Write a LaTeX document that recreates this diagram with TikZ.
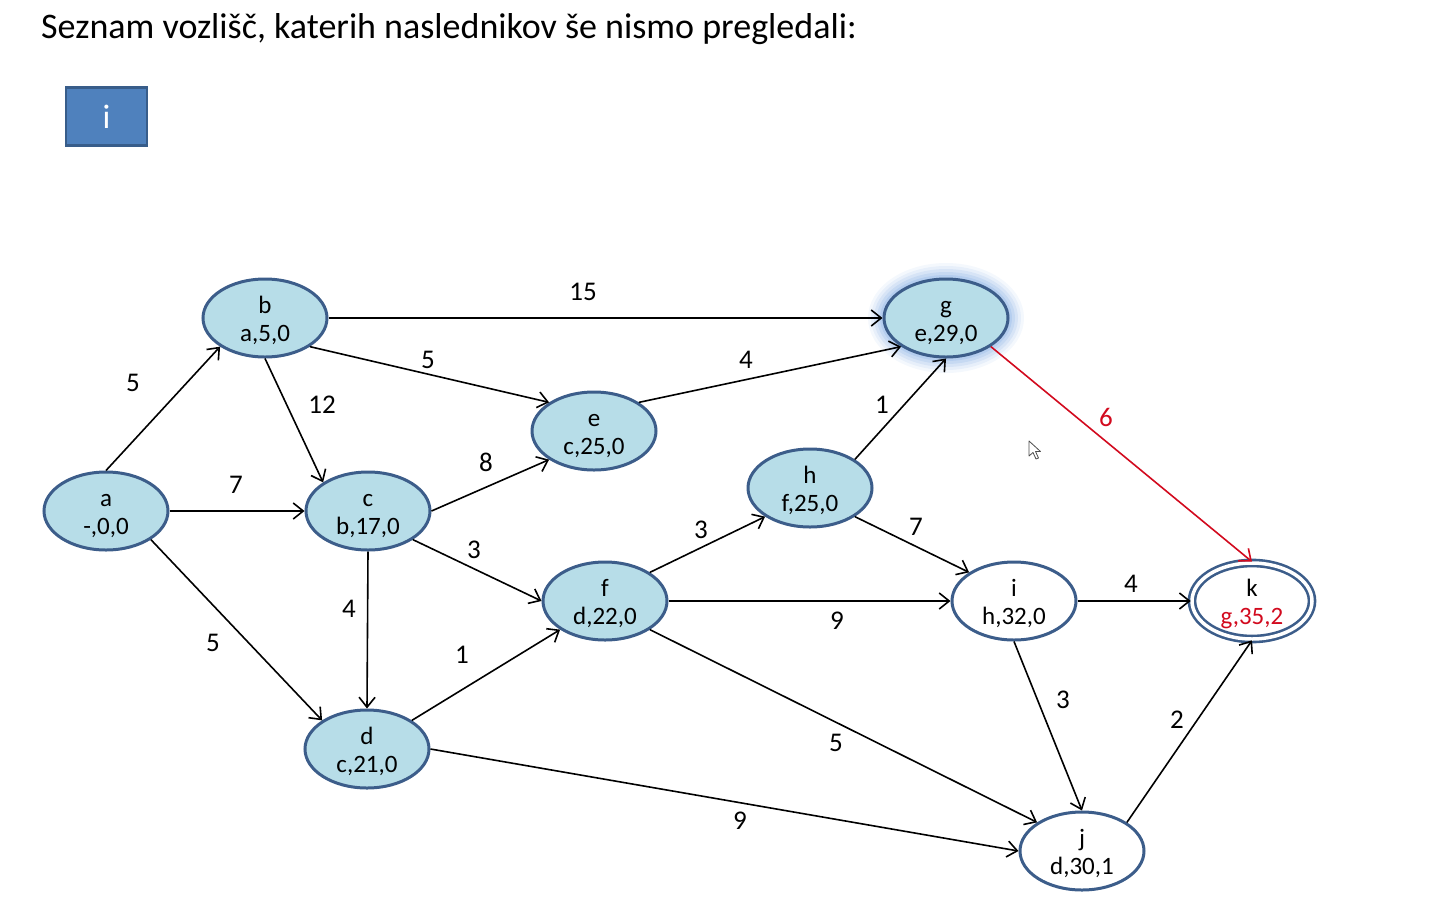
\documentclass[tikz,border=0pt]{standalone}
\usepackage{fontspec}
\setmainfont{Carlito}
\usetikzlibrary{shapes.geometric,arrows.meta}

\definecolor{nodefill}{RGB}{183,221,232}
\definecolor{nodeline}{RGB}{60,93,138}
\definecolor{boxfill}{RGB}{79,129,189}
\definecolor{boxline}{RGB}{56,93,138}
\definecolor{pathred}{RGB}{210,10,30}
\definecolor{glow}{RGB}{120,165,225}

% vertex name over its label (predecessor, distance, count)
\newcommand\vtxtext[2]{\rule{0pt}{19pt}#1\\\raisebox{0pt}[\height][0pt]{#2}}

\tikzset{
  vertex/.style={ellipse, draw=nodeline, line width=3, fill=nodefill,
    minimum width=124, minimum height=78, inner sep=0, align=center,
    font=\fontsize{25}{28}\selectfont},
  openvertex/.style={vertex, fill=white},
  edge/.style={line width=1.6, -{Straight Barb[length=10,width=16,line width=1.6]}},
  redge/.style={edge, draw=pathred},
  weight/.style={font=\fontsize{27}{30}\selectfont, inner sep=0},
}

\begin{document}
\begin{tikzpicture}[x=1pt,y=-1pt]
\useasboundingbox (0,0) rectangle (1441,906);

% heading and list of pending vertices
\node[anchor=west, font=\fontsize{36}{40}\selectfont, inner sep=0] (title) at (41,29)
  {Seznam vozlišč, katerih naslednikov še nismo pregledali:};
\node[draw=boxline, line width=2.5, fill=boxfill, minimum width=81, minimum height=58,
  text=white, font=\fontsize{34}{38}\selectfont, inner sep=0] (queue) at (106.5,116.5) {i};

% highlight around the current vertex
\foreach \r/\o in {16/0.08,13/0.11,10/0.14,7/0.18,4/0.22,1/0.3}
  \fill[glow, opacity=\o] (946,318) ellipse ({62+\r} and {39+\r});

% vertices
\node[vertex] (a) at (106,511) {\vtxtext{a}{-,0,0}};
\node[vertex] (b) at (265,318) {\vtxtext{b}{a,5,0}};
\node[vertex] (c) at (368,511) {\vtxtext{c}{b,17,0}};
\node[vertex] (d) at (367,749) {\vtxtext{d}{c,21,0}};
\node[vertex] (e) at (594,431) {\vtxtext{e}{c,25,0}};
\node[vertex] (f) at (605,601) {\vtxtext{f}{d,22,0}};
\node[vertex] (g) at (946,318) {\vtxtext{g}{e,29,0}};
\node[vertex] (h) at (810,488) {\vtxtext{h}{f,25,0}};
\node[openvertex] (i) at (1014,601) {\vtxtext{i}{h,32,0}};
\node[openvertex] (j) at (1082,851) {\vtxtext{j}{d,30,1}};
\node[openvertex, double=white, double distance=3.5, line width=2.6,
  minimum width=120, minimum height=76] (k) at (1252,601)
  {\vtxtext{k}{\textcolor{pathred}{g,35,2}}};

% edges
\draw[edge] (a.north) -- (b.south west);
\draw[edge] (a.east) -- (c.west);
\draw[edge] (a.south east) -- (d.north west);
\draw[edge] (b.east) -- (g.west);
\draw[edge] (b.south east) -- (e.north west);
\draw[edge] (b.south) -- (c.north west);
\draw[edge] (c.east) -- (e.south west);
\draw[edge] (c.south east) -- (f.west);
\draw[edge] (c.south) -- (d.north);
\draw[edge] (d.north east) -- (f.south west);
\draw[edge] (d.east) -- (j.west);
\draw[edge] (e.north east) -- (g.south west);
\draw[edge] (f.north east) -- (h.south west);
\draw[edge] (f.east) -- (i.west);
\draw[edge] (f.south east) -- (j.north west);
\draw[edge] (h.north east) -- (g.south);
\draw[edge] (h.south east) -- (i.north west);
\draw[redge] (g.south east) -- (k.north);
\draw[edge] (i.east) -- (k.west);
\draw[edge] (i.south) -- (j.north);
\draw[edge] (j.north east) -- (k.south);

% edge weights
\node[weight] (wab) at (133,383) {5};
\node[weight] (wac) at (236,485) {7};
\node[weight] (wad) at (213,643) {5};
\node[weight] (wbg) at (583,292) {15};
\node[weight] (wbe) at (428,360) {5};
\node[weight] (wbc) at (322,405) {12};
\node[weight] (wce) at (486,462) {8};
\node[weight] (wcf) at (474,550) {3};
\node[weight] (wcd) at (349,609) {4};
\node[weight] (wdf) at (462,655) {1};
\node[weight] (wdj) at (740,821) {9};
\node[weight] (weg) at (746,360) {4};
\node[weight] (wfh) at (701,530) {3};
\node[weight] (wfi) at (837,621) {9};
\node[weight] (wfj) at (836,743) {5};
\node[weight] (whg) at (882,405) {1};
\node[weight] (whi) at (916,527) {7};
\node[weight, text=pathred] (wgk) at (1106,417) {6};
\node[weight] (wik) at (1131,584) {4};
\node[weight] (wij) at (1063,700) {3};
\node[weight] (wjk) at (1177,720) {2};

% mouse pointer
\draw[fill=white, draw=black!70, line width=0.8, line join=round]
  (1029,441) -- (1029,456) -- (1033,452.5) -- (1036,459) -- (1038.5,458)
  -- (1035.5,451.5) -- (1040.5,451.5) -- cycle;
\end{tikzpicture}
\end{document}
